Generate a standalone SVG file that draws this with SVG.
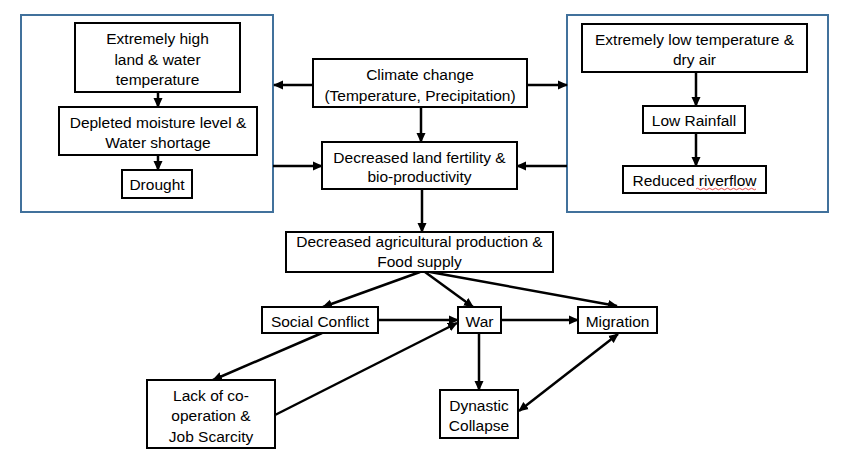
<svg xmlns="http://www.w3.org/2000/svg" width="847" height="472" viewBox="0 0 847 472">
<defs>
<marker id="ah" markerUnits="userSpaceOnUse" markerWidth="10" markerHeight="10" viewBox="0 0 10 10" refX="9" refY="5" orient="auto-start-reverse">
<path d="M0,0.5 L10,5 L0,9.5 Z" fill="#000"/>
</marker>
</defs>
<style>
.cont{fill:#fff;stroke:#41719c;stroke-width:2}
.box{fill:#fff;stroke:#000;stroke-width:2}
text{font-family:"Liberation Sans","Open Sans",sans-serif;font-size:15.5px;fill:#000;text-anchor:middle;dominant-baseline:central}
.c{fill:none;stroke:#000;stroke-width:2.5;marker-end:url(#ah)}
.d{marker-start:url(#ah)}
</style>
<rect width="847" height="472" fill="#fff"/>
<g id="left-group"><rect class="cont" x="21" y="15" width="252" height="197"/></g>
<g id="right-group"><rect class="cont" x="567" y="15" width="261" height="197"/></g>
<g id="connectors">
<path class="c" d="M158,92 V107"/>
<path class="c" d="M158,155 V170"/>
<path class="c" d="M696,72 V106"/>
<path class="c" d="M696,133 V166"/>
<path class="c" d="M313,85 H274"/>
<path class="c" d="M527,85 H567"/>
<path class="c" d="M421,107 V142"/>
<path class="c" d="M273,166 H322"/>
<path class="c" d="M567,166 H517"/>
<path class="c" d="M422,189 V232"/>
<path class="c" d="M420,272 L323,307"/>
<path class="c" d="M425,272 L473,307"/>
<path class="c" d="M430,272 L617,306"/>
<path class="c" d="M378,320 H458"/>
<path class="c" d="M501,320 H578"/>
<path class="c" d="M322,333 L213,380"/>
<path class="c" d="M275,415 L457,323"/>
<path class="c" d="M479,333 V390"/>
<path class="c d" d="M618,334 L519,411"/>
</g>
<g id="n1"><rect class="box" x="75" y="23" width="165" height="69"/><text x="157.5" y="38">Extremely high</text><text x="157.5" y="59">land &amp; water</text><text x="157.5" y="79">temperature</text></g>
<g id="n2"><rect class="box" x="59" y="107" width="198" height="48"/><text x="158" y="122">Depleted moisture level &amp;</text><text x="158" y="142">Water shortage</text></g>
<g id="n3"><rect class="box" x="122" y="170" width="70" height="28"/><text x="157" y="184">Drought</text></g>
<g id="n4"><rect class="box" x="313" y="59" width="214" height="48"/><text x="420" y="74">Climate change</text><text x="420" y="95">(Temperature, Precipitation)</text></g>
<g id="n5"><rect class="box" x="322" y="142" width="195" height="47"/><text x="419.5" y="157">Decreased land fertility &amp;</text><text x="419.5" y="176">bio-productivity</text></g>
<g id="n6"><rect class="box" x="582" y="24" width="225" height="48"/><text x="694.5" y="39">Extremely low temperature &amp;</text><text x="694.5" y="59">dry air</text></g>
<g id="n7"><rect class="box" x="643" y="106" width="102" height="27"/><text x="694" y="120">Low Rainfall</text></g>
<g id="n8"><rect class="box" x="623" y="166" width="143" height="27"/><text x="694.5" y="180">Reduced riverflow</text><path d="M696,189 q1.5,-1.5 3,0 t3,0 t3,0 t3,0 t3,0 t3,0 t3,0 t3,0 t3,0 t3,0 t3,0 t3,0 t3,0 t3,0 t3,0 t3,0 t3,0 t3,0 t3,0 t3,0" fill="none" stroke="#e02020" stroke-width="0.8"/></g>
<g id="n9"><rect class="box" x="286" y="232" width="267" height="40"/><text x="419.5" y="241">Decreased agricultural production &amp;</text><text x="419.5" y="261">Food supply</text></g>
<g id="n10"><rect class="box" x="262" y="307" width="116" height="26"/><text x="320" y="321">Social Conflict</text></g>
<g id="n11"><rect class="box" x="458" y="307" width="43" height="26"/><text x="479.5" y="321">War</text></g>
<g id="n12"><rect class="box" x="578" y="307" width="79" height="26"/><text x="617.5" y="321">Migration</text></g>
<g id="n13"><rect class="box" x="147" y="380" width="128" height="68"/><text x="211" y="395">Lack of co-</text><text x="211" y="415">operation &amp;</text><text x="211" y="436">Job Scarcity</text></g>
<g id="n14"><rect class="box" x="440" y="390" width="78" height="48"/><text x="479" y="405">Dynastic</text><text x="479" y="425">Collapse</text></g>
</svg>
